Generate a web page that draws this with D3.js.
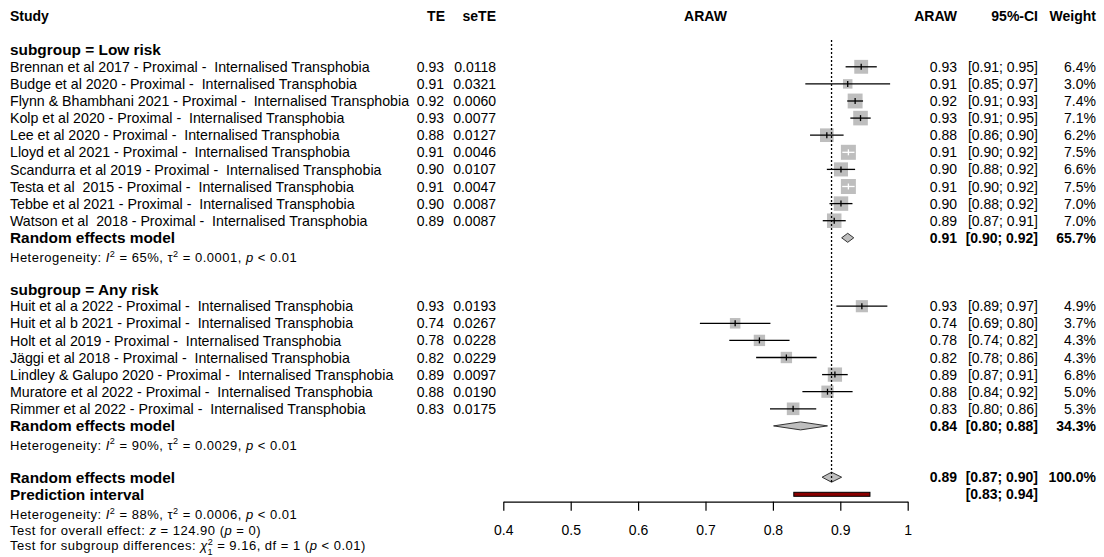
<!DOCTYPE html>
<html>
<head>
<meta charset="utf-8">
<script src="https://cdn.jsdelivr.net/npm/d3@7"></script>
<style>
  body { margin: 0; background: #fff; }
  svg text { font-family: "Liberation Sans", Arial, sans-serif; fill: #000; white-space: pre; }
</style>
</head>
<body>
<svg id="chart" width="1104" height="557"></svg>
<script>
// values
var lowStudies = [
  "Brennan et al 2017 - Proximal -  Internalised Transphobia",
  "Budge et al 2020 - Proximal -  Internalised Transphobia",
  "Flynn & Bhambhani 2021 - Proximal -  Internalised Transphobia",
  "Kolp et al 2020 - Proximal -  Internalised Transphobia",
  "Lee et al 2020 - Proximal -  Internalised Transphobia",
  "Lloyd et al 2021 - Proximal -  Internalised Transphobia",
  "Scandurra et al 2019 - Proximal -  Internalised Transphobia",
  "Testa et al  2015 - Proximal -  Internalised Transphobia",
  "Tebbe et al 2021 - Proximal -  Internalised Transphobia",
  "Watson et al  2018 - Proximal -  Internalised Transphobia"
];
var lowTE = [0.931, 0.911, 0.922, 0.930, 0.880, 0.912, 0.901, 0.912, 0.901, 0.891];
var lowSE = [0.0118, 0.0321, 0.0060, 0.0077, 0.0127, 0.0046, 0.0107, 0.0047, 0.0087, 0.0087];
var lowLower = [0.91, 0.85, 0.91, 0.91, 0.86, 0.90, 0.88, 0.90, 0.88, 0.87];
var lowUpper = [0.95, 0.97, 0.93, 0.95, 0.90, 0.92, 0.92, 0.92, 0.92, 0.91];
var lowWeight = [6.4, 3.0, 7.4, 7.1, 6.2, 7.5, 6.6, 7.5, 7.0, 7.0];

var anyStudies = [
  "Huit et al a 2022 - Proximal -  Internalised Transphobia",
  "Huit et al b 2021 - Proximal -  Internalised Transphobia",
  "Holt et al 2019 - Proximal -  Internalised Transphobia",
  "Jäggi et al 2018 - Proximal -  Internalised Transphobia",
  "Lindley & Galupo 2020 - Proximal -  Internalised Transphobia",
  "Muratore et al 2022 - Proximal -  Internalised Transphobia",
  "Rimmer et al 2022 - Proximal -  Internalised Transphobia"
];
var anyTE = [0.932, 0.744, 0.780, 0.820, 0.892, 0.881, 0.830];
var anySE = [0.0193, 0.0267, 0.0228, 0.0229, 0.0097, 0.0190, 0.0175];
var anyLower = [0.89, 0.69, 0.74, 0.78, 0.87, 0.84, 0.80];
var anyUpper = [0.97, 0.80, 0.82, 0.86, 0.91, 0.92, 0.86];
var anyWeight = [4.9, 3.7, 4.3, 4.3, 6.8, 5.0, 5.3];

// pooled estimates: low risk, any risk, overall
var poolNames = ["Low risk", "Any risk", "Overall"];
var poolEst = [0.911, 0.841, 0.887];
var poolLower = [0.902, 0.801, 0.873];
var poolUpper = [0.920, 0.881, 0.902];
var poolLowerLabel = [0.90, 0.80, 0.87];
var poolUpperLabel = [0.92, 0.88, 0.90];
var poolWeight = ["65.7%", "34.3%", "100.0%"];
var predInterval = [0.831, 0.944];

var hetI2 = ["65%", "90%", "88%"];
var hetTau2 = ["0.0001", "0.0029", "0.0006"];
var hetP = ["< 0.01", "< 0.01", "< 0.01"];

var tickValues = [0.4, 0.5, 0.6, 0.7, 0.8, 0.9, 1];
var tickLabels = ["0.4", "0.5", "0.6", "0.7", "0.8", "0.9", "1"];

var svg = d3.select("#chart");
var x = d3.scaleLinear().domain([0.4, 1]).range([503.3, 907.7]);
var box = d3.scaleSqrt().domain([0, 7.5]).range([0, 15]);

function rowY(i) { return 15.5 + i * 17.1; }

function txt(xp, yc, s, anchor, bold, size) {
  size = size || 14;
  return svg.append("text")
    .attr("x", xp)
    .attr("y", yc + size * 0.36)
    .attr("text-anchor", anchor || "start")
    .attr("font-size", size)
    .attr("font-weight", bold ? "bold" : "normal")
    .text(s);
}

// parts: [text, kind] kind: "", "i", "sup", "sub"
function richTxt(xp, yc, parts, size) {
  var t = svg.append("text")
    .attr("x", xp)
    .attr("y", yc + size * 0.36)
    .attr("font-size", size)
    .attr("letter-spacing", 0.5);
  parts.forEach(function(p) {
    var sp = t.append("tspan").text(p[0]);
    if (p[1] === "i") sp.attr("font-style", "italic");
    if (p[1] === "sup") sp.attr("font-size", size * 0.7).attr("dy", -size * 0.42);
    if (p[1] === "supend") sp.attr("dy", size * 0.42);
    if (p[1] === "sub") sp.attr("font-size", size * 0.7).attr("dx", -size * 0.45).attr("dy", size * 0.8);
    if (p[1] === "subend") sp.attr("dy", -size * 0.38);
  });
  return t;
}

function fmt2(v) { return v.toFixed(2); }
function ciLabel(a, b) { return "[" + fmt2(a) + "; " + fmt2(b) + "]"; }

// header
var hy = rowY(0);
txt(10, hy, "Study", "start", true);
txt(445, hy, "TE", "end", true);
txt(496, hy, "seTE", "end", true);
txt((x(0.4) + x(1)) / 2, hy, "ARAW", "middle", true);
txt(957, hy, "ARAW", "end", true);
txt(1038, hy, "95%-CI", "end", true);
txt(1096, hy, "Weight", "end", true);

var plotG = svg.append("g");

function drawStudies(names, te, se, lo, hi, w, startRow) {
  names.forEach(function(n, i) {
    var y = rowY(startRow + i);
    txt(10, y, n, "start", false, 14.2);
    txt(444, y, fmt2(te[i]), "end");
    txt(496, y, se[i].toFixed(4), "end");
    txt(957, y, fmt2(te[i]), "end");
    txt(1038, y, ciLabel(lo[i], hi[i]), "end");
    txt(1096, y, w[i].toFixed(1) + "%", "end");

    var s = box(w[i]);
    var cx = x(te[i]);
    var x1 = x(te[i] - 1.96 * se[i]), x2 = x(te[i] + 1.96 * se[i]);
    var inside = (x1 > cx - s / 2) && (x2 < cx + s / 2);
    plotG.append("rect")
      .attr("x", cx - s / 2).attr("y", y - s / 2)
      .attr("width", s).attr("height", s)
      .attr("fill", "#bebebe");
    plotG.append("line")
      .attr("x1", x1).attr("x2", x2).attr("y1", y).attr("y2", y)
      .attr("stroke", inside ? "#fff" : "#000").attr("stroke-width", 1.3);
    plotG.append("line")
      .attr("x1", cx).attr("x2", cx).attr("y1", y - 3).attr("y2", y + 3)
      .attr("stroke", inside ? "#fff" : "#000").attr("stroke-width", 1.3);
  });
}

function diamond(k, y, h) {
  var pts = [[x(poolLower[k]), y], [x(poolEst[k]), y - h], [x(poolUpper[k]), y], [x(poolEst[k]), y + h]];
  plotG.append("polygon")
    .attr("points", pts.map(function(p) { return p.join(","); }).join(" "))
    .attr("fill", "#bebebe").attr("stroke", "#333").attr("stroke-width", 1);
}

function pooledRow(k, row, label, h) {
  var y = rowY(row);
  txt(10, y, label, "start", true, 15.4);
  txt(957, y, fmt2(poolEst[k]), "end", true);
  txt(1038, y, ciLabel(poolLowerLabel[k], poolUpperLabel[k]), "end", true);
  txt(1096, y, poolWeight[k], "end", true);
  diamond(k, y, h);
}

function hetRow(k, yc) {
  richTxt(10, yc, [
    ["Heterogeneity: ", ""], ["I", "i"], ["2", "sup"],
    [" = " + hetI2[k] + ", \u03c4", "supend"], ["2", "sup"],
    [" = " + hetTau2[k] + ", ", "supend"], ["p", "i"], [" " + hetP[k], ""]
  ], 13);
}

// low risk subgroup
txt(10, rowY(2), "subgroup = " + poolNames[0], "start", true, 15.4);
drawStudies(lowStudies, lowTE, lowSE, lowLower, lowUpper, lowWeight, 3);
pooledRow(0, 13, "Random effects model", 4.5);
hetRow(0, rowY(14) + 2.8);

// any risk subgroup
txt(10, rowY(16), "subgroup = " + poolNames[1], "start", true, 15.4);
drawStudies(anyStudies, anyTE, anySE, anyLower, anyUpper, anyWeight, 17);
pooledRow(1, 24, "Random effects model", 4);
hetRow(1, rowY(25) + 2);

// overall
pooledRow(2, 27, "Random effects model", 5);
var py = rowY(28);
txt(10, py, "Prediction interval", "start", true, 15.4);
txt(1038, py, ciLabel(predInterval[0], predInterval[1]), "end", true);
plotG.append("rect")
  .attr("x", x(predInterval[0])).attr("y", py - 2)
  .attr("width", x(predInterval[1]) - x(predInterval[0])).attr("height", 4)
  .attr("fill", "#8b0000").attr("stroke", "#000").attr("stroke-width", 1);

var fy = 514.7;
hetRow(2, fy);
richTxt(10, fy + 15.3, [
  ["Test for overall effect: ", ""], ["z", "i"], [" = 124.90 (", ""], ["p", "i"], [" = 0)", ""]
], 13);
richTxt(10, fy + 30.6, [
  ["Test for subgroup differences: ", ""], ["\u03c7", "i"], ["2", "sup"], ["1", "sub"],
  [" = 9.16, df = 1 (", "subend"], ["p", "i"], [" < 0.01)", ""]
], 13);

// reference line at overall estimate
svg.append("line")
  .attr("x1", x(poolEst[2])).attr("x2", x(poolEst[2]))
  .attr("y1", 40).attr("y2", rowY(27) + 5)
  .attr("stroke", "#000").attr("stroke-width", 1.3)
  .attr("stroke-dasharray", "2,2");

// axis
var axis = d3.axisBottom(x)
  .tickValues(tickValues)
  .tickFormat(function(d, i) { return tickLabels[i]; })
  .tickSize(9)
  .tickSizeOuter(0)
  .tickPadding(14);
var ag = svg.append("g").attr("transform", "translate(0,501.7)").call(axis);
ag.selectAll("path, line").attr("stroke", "#000").attr("stroke-width", 1.2);
ag.selectAll("text").attr("font-size", 14).attr("font-family", "Liberation Sans, Arial, sans-serif").attr("fill", "#000");
</script>
</body>
</html>
